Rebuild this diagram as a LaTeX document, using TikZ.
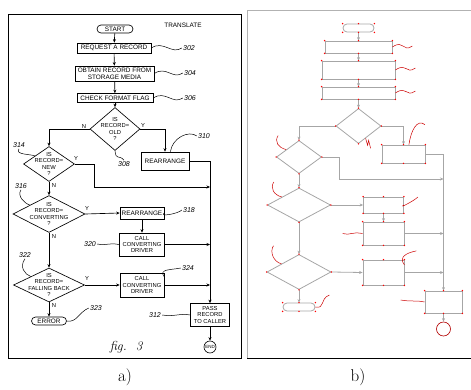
\documentclass[tikz,border=0pt]{standalone}
\usepackage{fontspec}
\setsansfont{Liberation Sans}
\usetikzlibrary{arrows.meta,calc,positioning,shapes.geometric}
\def\busx{210}

\begin{document}
\begin{tikzpicture}[x=1pt, y=-1pt, >={Stealth[length=3.5pt,width=3pt]}, line width=0.65pt,
    font=\sffamily\fontsize{6.4}{6.8}\selectfont]
    \tikzstyle{box}=[draw, rectangle, inner sep=0pt, align=center]
    \tikzstyle{term}=[draw, rectangle, rounded corners=4pt, inner sep=0pt]
    \tikzstyle{dia}=[draw, diamond, inner sep=0pt]
    \tikzstyle{dtext}=[align=center, inner sep=0pt, font=\sffamily\fontsize{5.8}{6.2}\selectfont]
    \tikzstyle{num}=[inner sep=1pt, font=\sffamily\itshape\fontsize{7}{7}\selectfont]
    \tikzstyle{yn}=[inner sep=0pt, font=\sffamily\fontsize{5.8}{6}\selectfont]
    \tikzstyle{squig}=[line width=0.5pt]
    \tikzstyle{tr}=[draw=gray!70, line width=0.8pt, inner sep=0pt]
    \tikzstyle{bline}=[gray!70, line width=0.8pt]
    \tikzstyle{rsq}=[red!80!black, line width=0.5pt]

    \useasboundingbox (0,0) rectangle (471,390);

    % Frames of the two parts
    \draw[line width=1pt] (8,15) rectangle (241,358);
    \draw[gray!60, line width=0.8pt] (247,358) -- (247,10) -- (471,10);
    \draw[line width=1pt] (247,358) -- (471,358);

    % Draw the main column of part a
    \node (translate) at (183,25) {TRANSLATE};
    \node[term, minimum width=36, minimum height=8] (start) at (115,29) {START};
    \node[box, minimum width=74, minimum height=10] (req) at (114,48) {REQUEST A RECORD};
    \node[box, minimum width=79, minimum height=15] (obtain) at (114.5,73.5) {OBTAIN RECORD FROM\\STORAGE MEDIA};
    \node[box, minimum width=76, minimum height=9] (check) at (115,98) {CHECK FORMAT FLAG};
    \node[dia, minimum width=50, minimum height=43] (old) at (115,129) {};
    \node[dtext] (old-t) at (old) {IS\\RECORD=\\OLD\\?};
    \node[box, minimum width=48, minimum height=18] (rear) at (165,161) {REARRANGE};

    % Draw the decisions on the left
    \node[dia, minimum width=51, minimum height=35] (new) at (49,164) {};
    \node[dtext] (new-t) at (new) {IS\\RECORD=\\NEW\\?};
    \node[dia, minimum width=72, minimum height=37] (conv) at (49,214) {};
    \node[dtext] (conv-t) at (conv) {IS\\RECORD=\\CONVERTING\\?};
    \node[dia, minimum width=71, minimum height=34] (fall) at (49,285) {};
    \node[dtext] (fall-t) at (fall) {IS\\RECORD=\\FALLING BACK\\?};
    \node[term, minimum width=35, minimum height=8] (error) at (49,321) {ERROR};

    % Draw the actions on the right
    \node[box, minimum width=44, minimum height=12] (rear2) at (142,213) {REARRANGE};
    \node[box, minimum width=45, minimum height=23, font=\sffamily\fontsize{5.8}{6.2}\selectfont] (drv1) at (142,244.5) {CALL\\CONVERTING\\DRIVER};
    \node[box, minimum width=44, minimum height=24, font=\sffamily\fontsize{5.8}{6.2}\selectfont] (drv2) at (142,285) {CALL\\CONVERTING\\DRIVER};
    \node[box, minimum width=39, minimum height=23, font=\sffamily\fontsize{5.8}{6.2}\selectfont] (pass) at (\busx,315) {PASS\\RECORD\\TO CALLER};
    \node[draw, circle, minimum size=12, inner sep=0pt, font=\sffamily\fontsize{4.5}{5}\selectfont] (end) at (\busx,347) {END};
    \coordinate (j1) at (\busx,187);

    % Connect the steps
    \foreach \a/\b in {start/req, req/obtain, obtain/check, check/old, new/conv, conv/fall, fall/error, rear2/drv1, pass/end}
        \draw[->] (\a) -- (\b);
    \draw[->] (old.west) -| (new.north);
    \draw[->] (old.east) -| (rear.north);
    \draw[->] (rear.east) -| (pass.north);
    \draw[->] (new.east) -- ++(19,0) |- (j1);
    \draw[->] (conv.east) -- (rear2.west);
    \draw[->] (fall.east) -- (drv2.west);
    \draw[->] (drv1.east) -- (drv1.east -| pass.north);
    \draw[->] (drv2.east) -- (drv2.east -| pass.north);

    % Yes / no marks
    \foreach \t/\x/\y [count=\i] in {N/84/127, Y/143/126, Y/76/159, N/54/186, Y/87/209, N/54/237, Y/87/279, N/54/306}
        \node[yn] (yn-\i) at (\x,\y) {\t};

    % Reference numbers
    \node[num] (n302) at (189,48) {302};
    \node[num] (n304) at (190,73) {304};
    \node[num] (n306) at (190,98) {306};
    \node[num] (n310) at (204,136) {310};
    \node[num] (n308) at (124,164) {308};
    \node[num] (n314) at (19,145) {314};
    \node[num] (n316) at (21,186) {316};
    \node[num] (n322) at (25,255) {322};
    \node[num] (n318) at (189,210) {318};
    \node[num] (n320) at (90,244) {320};
    \node[num] (n324) at (188,268) {324};
    \node[num] (n323) at (96,308) {323};
    \node[num] (n312) at (155,315) {312};
    \draw[squig] (req.east) .. controls +(12,-8) and +(-10,7) .. (n302.west);
    \draw[squig] (obtain.east) .. controls +(12,-8) and +(-10,7) .. (n304.west);
    \draw[squig] (check.east) .. controls +(12,-8) and +(-10,7) .. (n306.west);
    \draw[squig] (rear.60) .. controls +(2,-14) and +(-8,-6) .. (n310.west);
    \draw[squig] (old.south) .. controls +(1,10) and +(-5,-6) .. (n308.north);
    \draw[squig] (n314.south) .. controls +(-4,6) and +(-6,-2) .. (new.150);
    \draw[squig] (n316.south) .. controls +(-4,6) and +(-6,-2) .. (conv.155);
    \draw[squig] (n322.south) .. controls +(-6,8) and +(-6,-2) .. (fall.155);
    \draw[squig] (rear2.east) .. controls +(-6,4) and +(-4,4) .. (n318.west);
    \draw[squig] (n320.east) .. controls +(10,2) and +(-12,-2) .. (drv1.west);
    \draw[squig] (drv2.20) .. controls +(-6,-8) and +(-10,2) .. (n324.west);
    \draw[squig] (error.east) .. controls +(10,2) and +(-10,4) .. (n323.west);
    \draw[squig] (n312.east) .. controls +(12,2) and +(-10,-2) .. (pass.west);

    \node[font=\rmfamily\itshape\fontsize{13}{13}\selectfont] (fig) at (126,347) {fig.\ \ 3};

    % Draw the traced chart of part b
    \node[tr, rounded corners=4pt, minimum width=31, minimum height=8] (bstart) at (358.5,28) {};
    \node[tr, minimum width=67, minimum height=12] (b1) at (358.5,47) {};
    \node[tr, minimum width=73, minimum height=18] (b2) at (358.5,70) {};
    \node[tr, minimum width=73, minimum height=12] (b3) at (358.5,93) {};
    \node[tr, diamond, minimum width=45, minimum height=35] (bold) at (358.5,126) {};
    \node[tr, minimum width=43, minimum height=18] (brear) at (403.5,154) {};
    \node[tr, diamond, minimum width=45, minimum height=33] (bnew) at (299,157) {};
    \node[tr, diamond, minimum width=63, minimum height=34] (bconv) at (299,205) {};
    \node[tr, diamond, minimum width=64, minimum height=35] (bfall) at (299,272) {};
    \node[tr, rounded corners=4pt, minimum width=32, minimum height=8] (berror) at (299,307) {};
    \node[tr, minimum width=40, minimum height=16] (brear2) at (383.5,205) {};
    \node[tr, minimum width=41, minimum height=23] (bdrv1) at (383.5,233.5) {};
    \node[tr, minimum width=41, minimum height=25] (bdrv2) at (383.5,272.5) {};
    \node[tr, minimum width=37, minimum height=22] (bpass) at (443.5,302) {};
    \node[draw=red!70!black, circle, minimum size=14, inner sep=0pt] (bend) at (443.5,329) {};
    \coordinate (bj1) at (443.5,179);

    % Connect the traced chart
    \foreach \a/\b in {bstart/b1, b1/b2, b2/b3, b3/bold, bnew/bconv, bconv/bfall, bfall/berror, brear2/bdrv1, bpass/bend}
        \draw[bline, ->] (\a) -- (\b);
    \draw[bline, ->] (bold.west) -| (bnew.north);
    \draw[bline, ->] (bold.east) -| (brear.north);
    \draw[bline, ->] (brear.east) -| (bpass.north);
    \draw[bline, ->] (bnew.east) -- ++(17,0) |- (bj1);
    \draw[bline, ->] (bconv.east) -- (brear2.west);
    \draw[bline, ->] (bfall.east) -- (bdrv2.west);
    \draw[bline, ->] (bdrv1.east) -- (bdrv1.east -| bpass.north);
    \draw[bline, ->] (bdrv2.east) -- (bdrv2.east -| bpass.north);

    % Red points of the trace
    \foreach \n in {bstart,b1,b2,b3,brear,brear2,bdrv1,bdrv2,bpass,berror}
        \foreach \a in {north west,north east,south east,south west,north,south}
            \fill[red] (\n.\a) circle (0.8);
    \foreach \n in {bold,bnew,bconv,bfall}
        \foreach \a in {north,east,south,west}
            \fill[red] (\n.\a) circle (0.8);

    % Red squiggles of the trace
    \draw[rsq] (b1.east) .. controls +(12,-8) and +(-10,7) .. ++(20,-1);
    \draw[rsq] (b2.east) .. controls +(12,-8) and +(-10,7) .. ++(20,-2);
    \draw[rsq] (b3.east) .. controls +(12,-8) and +(-10,7) .. ++(20,-2);
    \draw[rsq] (brear.60) .. controls +(2,-14) and +(-8,-6) .. ++(16,-20);
    \draw[rsq] (bold.-60) -- ++(2,7) -- ++(1,-5) -- ++(2,8);
    \draw[rsq] (bnew.150) .. controls +(-8,-2) and +(-4,6) .. ++(-8,-14);
    \draw[rsq] (bconv.155) .. controls +(-8,-2) and +(-4,6) .. ++(-8,-15);
    \draw[rsq] (bfall.155) .. controls +(-8,-2) and +(-4,6) .. ++(-8,-18);
    \draw[rsq] (brear2.east) .. controls +(-6,4) and +(-4,4) .. ++(14,-8);
    \draw[rsq] (bdrv1.west) .. controls +(-12,-2) and +(10,2) .. ++(-20,0);
    \draw[rsq] (bdrv2.20) .. controls +(-6,-8) and +(-10,2) .. ++(12,-14);
    \draw[rsq] (berror.east) .. controls +(10,2) and +(-10,4) .. ++(14,-12);
    \draw[rsq] (bpass.west) .. controls +(-10,-2) and +(12,2) .. ++(-24,-2);

    % Captions
    \node[font=\rmfamily\fontsize{17}{17}\selectfont] (cap-a) at (125,377) {a)};
    \node[font=\rmfamily\fontsize{17}{17}\selectfont] (cap-b) at (358,377) {b)};
\end{tikzpicture}
\end{document}
